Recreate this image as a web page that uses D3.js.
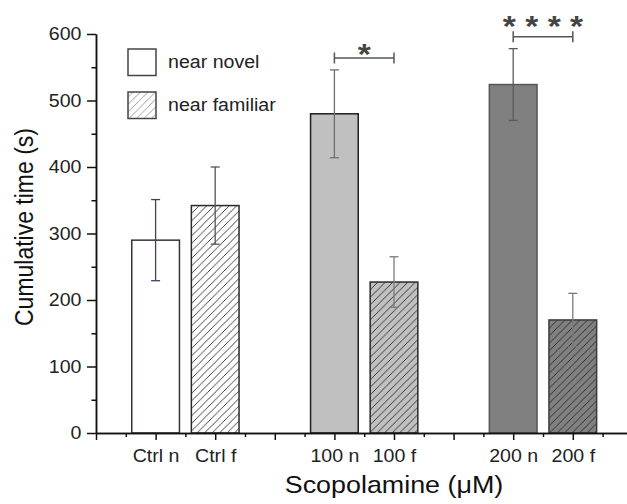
<!DOCTYPE html>
<html>
<head>
<meta charset="utf-8">
<script src="https://cdn.jsdelivr.net/npm/d3@7"></script>
<style>
  body { margin: 0; background: #fff; }
  text { font-family: "Liberation Sans", Arial, sans-serif; }
</style>
</head>
<body>
<svg id="chart" width="627" height="504"></svg>
<script>
// ---- data ----
const categories = ["Ctrl n", "Ctrl f", "100 n", "100 f", "200 n", "200 f"];
const means = [290, 342, 480, 227, 524, 170];
const sems = [61, 58, 66, 38, 54, 40];
const yTicks = [0, 100, 200, 300, 400, 500, 600];
const legendLabels = ["near novel", "near familiar"];
// significance brackets: pair of bar indices, bracket height (s), marker
const sigFrom = [2, 4];
const sigTo = [3, 5];
const sigLevel = [564, 596];
const sigMarks = ["*", "* * * *"];

// ---- drawing ----
const SX = 1.12; // horizontal text stretch
const svg = d3.select("#chart");

// bars sit in slots on a unit grid: pairs at 2/4, 8/10, 14/16
const slot = i => 2 + 6 * Math.floor(i / 2) + 2 * (i % 2);

const x = d3.scaleLinear().domain([0, 18]).range([96, 96 + 18 * 29.8]);
const y = d3.scaleLinear().domain([0, 600]).range([433, 34]);
const barW = x(1.6) - x(0);

const palette = {
  fill: ["#ffffff", "#ffffff", "#c0c0c0", "#c0c0c0", "#808080", "#808080"],
  stroke: ["#3a2f3c", "#2a2a2a", "#1e1e1e", "#2a2a2a", "#555555", "#3a3a3a"],
  err: ["#4d3a55", "#555555", "#6e6e6e", "#7a7a7a", "#5a5a5a", "#7a7a7a"],
  hatchLine: ["#222", "#222", "#222", "#222", "#222", "#222"]
};

const defs = svg.append("defs");
function hatch(id, bg, line) {
  const s = 7.5;
  const p = defs.append("pattern")
    .attr("id", id)
    .attr("patternUnits", "userSpaceOnUse")
    .attr("width", s).attr("height", s);
  p.append("rect").attr("width", s).attr("height", s).attr("fill", bg);
  p.append("path")
    .attr("d", `M-1,1 L1,-1 M0,${s} L${s},0 M${s - 1},${s + 1} L${s + 1},${s - 1}`)
    .attr("stroke", line).attr("stroke-width", 0.85).attr("fill", "none");
}
categories.forEach((c, i) => {
  if (i % 2 === 1) hatch("hatch" + i, palette.fill[i], palette.hatchLine[i]);
});
hatch("hatchLegend", "#ffffff", "#8a8a8a");

// bars
svg.append("g").selectAll("rect")
  .data(categories)
  .join("rect")
  .attr("x", (d, i) => x(slot(i)) - barW / 2)
  .attr("y", (d, i) => y(means[i]))
  .attr("width", barW)
  .attr("height", (d, i) => y(0) - y(means[i]))
  .attr("fill", (d, i) => i % 2 === 1 ? `url(#hatch${i})` : palette.fill[i])
  .attr("stroke", (d, i) => palette.stroke[i])
  .attr("stroke-width", 1.5);

// error bars
const eg = svg.append("g").attr("fill", "none").attr("stroke-width", 1.3);
categories.forEach((c, i) => {
  const cx = x(slot(i));
  const top = y(means[i] + sems[i]);
  const bot = y(means[i] - sems[i]);
  const col = palette.err[i];
  eg.append("line").attr("x1", cx).attr("x2", cx).attr("y1", top).attr("y2", bot).attr("stroke", col);
  eg.append("line").attr("x1", cx - 4.5).attr("x2", cx + 4.5).attr("y1", top).attr("y2", top).attr("stroke", col);
  eg.append("line").attr("x1", cx - 4.5).attr("x2", cx + 4.5).attr("y1", bot).attr("y2", bot).attr("stroke", col);
});

// axes
function styleAxis(g) {
  g.selectAll("path, line").attr("stroke", "#111").attr("stroke-width", 1.5);
  g.selectAll("text").attr("fill", "#222").attr("font-size", 17.5)
    .attr("transform", `scale(${SX},1)`);
}

svg.append("g")
  .attr("transform", `translate(${x(0)},0)`)
  .call(d3.axisLeft(y).tickValues(d3.range(50, 600, 100)).tickSize(4.5).tickSizeOuter(0).tickFormat(""))
  .call(styleAxis);
svg.append("g")
  .attr("transform", `translate(${x(0)},0)`)
  .call(d3.axisLeft(y).tickValues(yTicks).tickSize(9).tickSizeOuter(0).tickPadding(4).tickFormat(d3.format("d")))
  .call(styleAxis);

const labelAt = new Map(categories.map((c, i) => [slot(i), c]));
svg.append("g")
  .attr("transform", `translate(0,${y(0)})`)
  .call(d3.axisBottom(x).tickValues(d3.range(1, 18, 2)).tickSize(4).tickSizeOuter(0).tickFormat(""))
  .call(styleAxis);
svg.append("g")
  .attr("transform", `translate(0,${y(0)})`)
  .call(d3.axisBottom(x).tickValues(d3.range(0, 18, 2)).tickSize(7).tickSizeOuter(0).tickPadding(10)
    .tickFormat(v => labelAt.get(v) || ""))
  .call(styleAxis);

// axis titles
svg.append("text")
  .attr("transform", `translate(${x(10)},493) scale(${SX},1)`)
  .attr("text-anchor", "middle")
  .attr("font-size", 24)
  .attr("fill", "#111")
  .text("Scopolamine (\u03BCM)");

svg.append("text")
  .attr("transform", `translate(33,227) scale(${SX},1) rotate(-90)`)
  .attr("text-anchor", "middle")
  .attr("font-size", 23)
  .attr("fill", "#111")
  .text("Cumulative time (s)");

// significance brackets
const markGap = [11, 17.5];
const sg = svg.append("g");
sigFrom.forEach((a, k) => {
  const x1 = x(slot(a)), x2 = x(slot(sigTo[k])), yy = y(sigLevel[k]);
  sg.append("path")
    .attr("d", `M${x1},${yy - 5.5}V${yy + 5.5}M${x1},${yy}H${x2}M${x2},${yy - 5.5}V${yy + 5.5}`)
    .attr("stroke", "#555").attr("stroke-width", 1.5).attr("fill", "none");
  sg.append("text")
    .attr("transform", `translate(${(x1 + x2) / 2},${yy - markGap[k] + 17}) scale(${SX},1)`)
    .attr("text-anchor", "middle")
    .attr("font-size", 30)
    .attr("font-weight", "bold")
    .attr("fill", "#444")
    .text(sigMarks[k]);
});

// legend
const lg = svg.append("g");
legendLabels.forEach((label, k) => {
  const top = 49 + k * 43;
  lg.append("rect")
    .attr("x", 128).attr("y", top).attr("width", 28).attr("height", 26.5)
    .attr("fill", k === 1 ? "url(#hatchLegend)" : "#fff")
    .attr("stroke", "#444").attr("stroke-width", 1.5);
  lg.append("text")
    .attr("transform", `translate(168,${top + 19}) scale(${SX},1)`)
    .attr("font-size", 17.5)
    .attr("fill", "#222")
    .text(label);
});
</script>
</body>
</html>
